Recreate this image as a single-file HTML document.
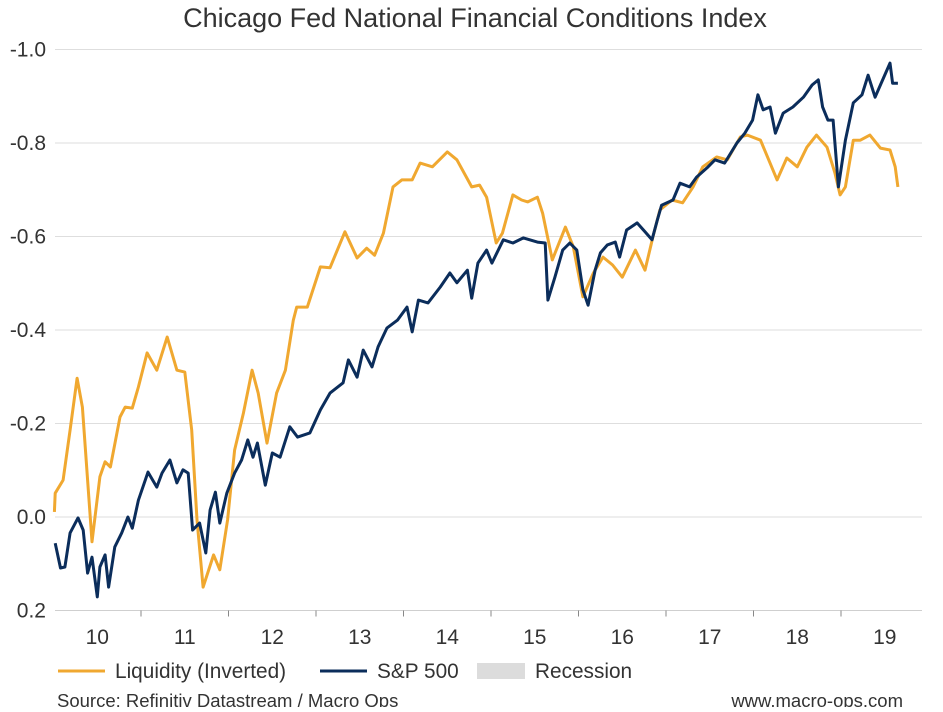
<!DOCTYPE html>
<html><head><meta charset="utf-8"><style>
body{margin:0;background:#fff;}
svg text{font-family:"Liberation Sans",Arial,sans-serif;fill:#333;}
</style></head><body>
<svg id="chart" width="943" height="707" viewBox="0 0 943 707" xmlns="http://www.w3.org/2000/svg">
<text x="475" y="27" text-anchor="middle" font-size="27">Chicago Fed National Financial Conditions Index</text>
<g id="grid"></g><g id="axes"></g><g id="series"></g>
<g>
<line x1="58" y1="671" x2="105" y2="671" stroke="#F0A830" stroke-width="3"/>
<text x="115" y="678" font-size="20.8">Liquidity (Inverted)</text>
<line x1="320" y1="671" x2="367" y2="671" stroke="#0B2D5B" stroke-width="3"/>
<text x="377" y="678" font-size="20.8">S&amp;P 500</text>
<rect x="477" y="663" width="48" height="16" fill="#dcdcdc"/>
<text x="535" y="678" font-size="20.8">Recession</text>
</g>
<text x="57" y="707" font-size="18.5">Source: Refinitiv Datastream / Macro Ops</text>
<text x="903" y="707" font-size="18.5" text-anchor="end">www.macro-ops.com</text>
</svg>
<script>
const yTicks=[-1.0,-0.8,-0.6,-0.4,-0.2,0.0,0.2];
const yTickLabels=["-1.0","-0.8","-0.6","-0.4","-0.2","0.0","0.2"];
const xYears=[10,11,12,13,14,15,16,17,18,19];
const liqT=[2010.01,2010.02,2010.11,2010.19,2010.27,2010.33,2010.44,2010.53,2010.59,2010.65,2010.76,2010.82,2010.90,2010.97,2011.07,2011.18,2011.30,2011.41,2011.50,2011.58,2011.64,2011.71,2011.83,2011.90,2011.99,2012.07,2012.17,2012.27,2012.34,2012.44,2012.55,2012.65,2012.74,2012.78,2012.90,2013.05,2013.16,2013.33,2013.47,2013.58,2013.67,2013.77,2013.88,2013.98,2014.10,2014.19,2014.33,2014.50,2014.61,2014.78,2014.87,2014.95,2015.06,2015.13,2015.25,2015.35,2015.42,2015.53,2015.59,2015.70,2015.85,2015.94,2016.05,2016.17,2016.28,2016.39,2016.50,2016.65,2016.76,2016.85,2016.93,2017.07,2017.19,2017.31,2017.42,2017.58,2017.70,2017.85,2017.93,2018.08,2018.27,2018.38,2018.50,2018.61,2018.72,2018.84,2018.93,2018.99,2019.05,2019.14,2019.22,2019.33,2019.45,2019.56,2019.62,2019.65];
const liqV=[-0.011,-0.051,-0.079,-0.186,-0.297,-0.235,0.053,-0.086,-0.118,-0.107,-0.214,-0.235,-0.233,-0.278,-0.351,-0.314,-0.385,-0.314,-0.310,-0.186,0.006,0.150,0.081,0.113,0.006,-0.143,-0.222,-0.314,-0.265,-0.158,-0.265,-0.314,-0.421,-0.449,-0.449,-0.535,-0.533,-0.610,-0.554,-0.575,-0.560,-0.607,-0.706,-0.721,-0.721,-0.757,-0.749,-0.781,-0.764,-0.706,-0.710,-0.684,-0.586,-0.607,-0.689,-0.678,-0.674,-0.684,-0.650,-0.550,-0.620,-0.578,-0.471,-0.522,-0.556,-0.539,-0.513,-0.571,-0.528,-0.599,-0.657,-0.678,-0.672,-0.706,-0.749,-0.770,-0.764,-0.813,-0.817,-0.806,-0.721,-0.768,-0.749,-0.791,-0.817,-0.791,-0.736,-0.689,-0.706,-0.806,-0.806,-0.817,-0.789,-0.785,-0.749,-0.706];
const spT=[2010.02,2010.08,2010.13,2010.19,2010.28,2010.34,2010.39,2010.44,2010.50,2010.53,2010.59,2010.63,2010.70,2010.78,2010.85,2010.90,2010.97,2011.08,2011.18,2011.24,2011.33,2011.41,2011.48,2011.54,2011.59,2011.67,2011.74,2011.79,2011.85,2011.90,2011.98,2012.07,2012.15,2012.22,2012.28,2012.33,2012.42,2012.50,2012.59,2012.70,2012.79,2012.93,2013.05,2013.16,2013.31,2013.37,2013.47,2013.54,2013.64,2013.71,2013.81,2013.93,2014.04,2014.10,2014.17,2014.28,2014.42,2014.53,2014.61,2014.73,2014.78,2014.85,2014.95,2015.01,2015.14,2015.25,2015.37,2015.53,2015.62,2015.65,2015.73,2015.82,2015.90,2015.98,2016.05,2016.11,2016.19,2016.25,2016.33,2016.42,2016.47,2016.55,2016.67,2016.76,2016.84,2016.90,2016.95,2017.08,2017.16,2017.27,2017.35,2017.47,2017.56,2017.67,2017.81,2017.90,2017.99,2018.05,2018.11,2018.19,2018.25,2018.34,2018.45,2018.57,2018.67,2018.74,2018.79,2018.85,2018.91,2018.97,2019.05,2019.14,2019.24,2019.31,2019.39,2019.45,2019.56,2019.59,2019.65];
const spV=[0.056,0.109,0.107,0.034,0.002,0.028,0.120,0.086,0.171,0.107,0.081,0.150,0.064,0.034,0.000,0.024,-0.036,-0.096,-0.064,-0.094,-0.122,-0.073,-0.101,-0.094,0.028,0.013,0.077,-0.015,-0.053,0.013,-0.051,-0.094,-0.122,-0.165,-0.128,-0.158,-0.068,-0.137,-0.128,-0.193,-0.171,-0.180,-0.229,-0.265,-0.287,-0.336,-0.299,-0.357,-0.321,-0.364,-0.404,-0.421,-0.449,-0.396,-0.464,-0.458,-0.492,-0.522,-0.501,-0.528,-0.468,-0.543,-0.571,-0.543,-0.593,-0.586,-0.597,-0.588,-0.586,-0.464,-0.513,-0.571,-0.586,-0.571,-0.486,-0.453,-0.528,-0.565,-0.582,-0.588,-0.556,-0.614,-0.629,-0.610,-0.593,-0.635,-0.667,-0.678,-0.714,-0.706,-0.727,-0.747,-0.764,-0.757,-0.800,-0.821,-0.849,-0.903,-0.871,-0.877,-0.821,-0.864,-0.877,-0.898,-0.924,-0.935,-0.877,-0.849,-0.849,-0.706,-0.806,-0.886,-0.903,-0.945,-0.898,-0.924,-0.971,-0.928,-0.928];

const NS="http://www.w3.org/2000/svg";
const X0=55,X1=922;
function xs(t){return 53.5+(t-2010)*87.5;}
function ys(v){return 517+v*467.5;}
function mk(tag,attrs,parent){const e=document.createElementNS(NS,tag);for(const k in attrs)e.setAttribute(k,attrs[k]);parent.appendChild(e);return e;}
const grid=document.getElementById('grid'),axes=document.getElementById('axes'),series=document.getElementById('series');
yTicks.forEach((v,i)=>{
  const y=ys(v);
  const ln=mk('line',{x1:X0,x2:X1,y1:y,y2:y,stroke:(v===0.2?'#cfcfcf':'#dedede'),'stroke-width':1},grid);
  
  
  const tx=mk('text',{x:46,y:y+7,'text-anchor':'end','font-size':21},axes);
  tx.textContent=yTickLabels[i];
  
  
});
for(let yr=2011;yr<=2019;yr++){
  const x=xs(yr);
  const tk=mk('line',{x1:x,x2:x,y1:ys(0.2),y2:ys(0.2)+6,stroke:'#888','stroke-width':1},axes);
  
  
}
xYears.forEach(yr=>{
  const tx=mk('text',{x:xs(2000+yr+0.5),y:644,'text-anchor':'middle','font-size':21},axes);
  tx.textContent=String(yr);
  
  
});
function path(T,V){return T.map((t,i)=>(i?'L':'M')+xs(t).toFixed(1)+','+ys(V[i]).toFixed(1)).join('');}
const pl=mk('path',{d:path(liqT,liqV),fill:'none',stroke:'#F0A830','stroke-width':3,'stroke-linejoin':'round'},series);


const ps=mk('path',{d:path(spT,spV),fill:'none',stroke:'#0B2D5B','stroke-width':3,'stroke-linejoin':'round'},series);


</script>
</body></html>
